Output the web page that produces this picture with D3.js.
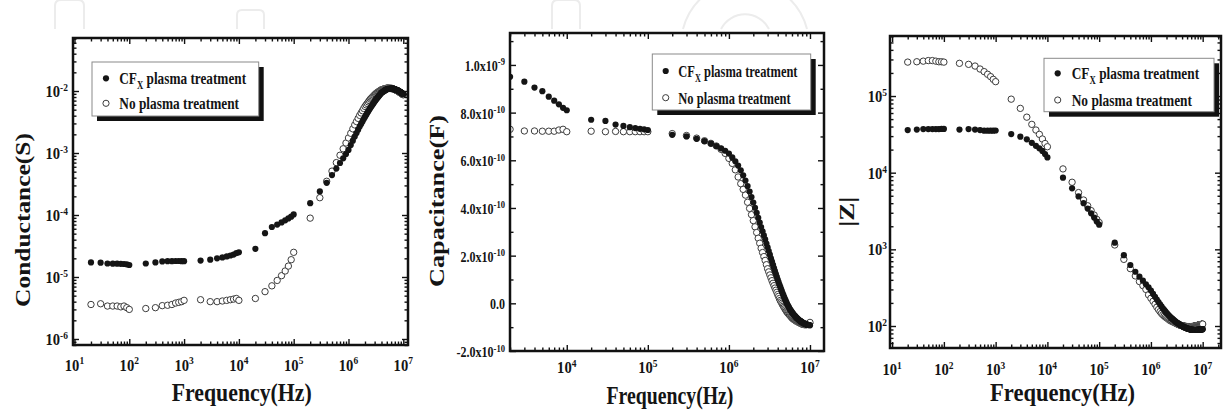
<!DOCTYPE html>
<html>
<head>
<meta charset="utf-8">
<script src="https://cdn.jsdelivr.net/npm/d3@7/dist/d3.min.js"></script>
<style>
  body { margin: 0; background: #fff; }
  svg { display: block; }
  text { font-family: "Liberation Serif", "Times New Roman", serif; font-weight: bold; fill: #141414; }
</style>
</head>
<body>
<svg id="chart" width="1224" height="411"></svg>
<script>
// ---------------- data ----------------
// sweep frequencies (Hz)
var freq = [20,30,40,50,60,70,80,90,100,
  200,300,400,500,600,700,800,900,1000,
  2000,3000,4000,5000,6000,7000,8000,9000,10000,
  2e4,3e4,4e4,5e4,6e4,7e4,8e4,9e4,1e5,
  2e5,3e5,4e5,5e5,6e5,7e5,8e5,9e5,1e6,
  1.1e6,1.2e6,1.3e6,1.4e6,1.5e6,1.6e6,1.7e6,1.8e6,1.9e6,2.0e6,
  2.1e6,2.2e6,2.3e6,2.4e6,2.5e6,2.6e6,2.7e6,2.8e6,2.9e6,3.0e6,
  3.1e6,3.2e6,3.3e6,3.4e6,3.5e6,3.6e6,3.7e6,3.8e6,3.9e6,4.0e6,
  4.1e6,4.2e6,4.3e6,4.4e6,4.5e6,4.6e6,4.7e6,4.8e6,4.9e6,5.0e6,
  5.1e6,5.2e6,5.3e6,5.4e6,5.5e6,5.6e6,5.7e6,5.8e6,5.9e6,6.0e6,
  6.1e6,6.2e6,6.3e6,6.4e6,6.5e6,6.6e6,6.7e6,6.8e6,6.9e6,7.0e6,
  7.1e6,7.2e6,7.3e6,7.4e6,7.5e6,7.6e6,7.7e6,7.8e6,7.9e6,8.0e6,
  8.1e6,8.2e6,8.3e6,8.4e6,8.5e6,8.6e6,8.7e6,8.8e6,8.9e6,9.0e6,
  9.1e6,9.2e6,9.3e6,9.4e6,9.5e6,9.6e6,9.7e6,9.8e6,9.9e6,10e6];

// conductance (S)
var condCF = [1.72e-5,1.70e-5,1.65e-5,1.64e-5,1.64e-5,1.63e-5,1.62e-5,1.60e-5,1.56e-5,
  1.65e-5,1.72e-5,1.78e-5,1.80e-5,1.80e-5,1.81e-5,1.81e-5,1.80e-5,1.80e-5,
  1.84e-5,1.90e-5,2.00e-5,2.07e-5,2.15e-5,2.22e-5,2.30e-5,2.42e-5,2.50e-5,
  2.85e-5,5.1e-5,6.4e-5,7.0e-5,7.6e-5,8.2e-5,8.8e-5,9.4e-5,1.02e-4,
  1.55e-4,2.4e-4,3.3e-4,4.4e-4,5.6e-4,6.9e-4,8.2e-4,9.6e-4,1.12e-3,
  1.34e-3,1.58e-3,1.84e-3,2.10e-3,2.38e-3,2.67e-3,2.94e-3,3.22e-3,3.52e-3,3.82e-3,
  4.10e-3,4.40e-3,4.71e-3,5.01e-3,5.33e-3,5.62e-3,5.89e-3,6.18e-3,6.47e-3,6.76e-3,
  7.05e-3,7.35e-3,7.60e-3,7.85e-3,8.10e-3,8.35e-3,8.61e-3,8.87e-3,9.12e-3,9.35e-3,
  9.51e-3,9.64e-3,9.78e-3,9.91e-3,1.005e-2,1.02e-2,1.03e-2,1.045e-2,1.057e-2,1.07e-2,
  1.074e-2,1.076e-2,1.078e-2,1.08e-2,1.082e-2,1.084e-2,1.086e-2,1.088e-2,1.09e-2,1.092e-2,
  1.094e-2,1.096e-2,1.096e-2,1.09e-2,1.087e-2,1.08e-2,1.077e-2,1.072e-2,1.067e-2,1.062e-2,
  1.058e-2,1.054e-2,1.05e-2,1.045e-2,1.04e-2,1.037e-2,1.033e-2,1.028e-2,1.025e-2,1.019e-2,
  1.012e-2,1.005e-2,9.98e-3,9.91e-3,9.82e-3,9.75e-3,9.68e-3,9.62e-3,9.57e-3,9.50e-3,
  9.44e-3,9.38e-3,9.31e-3,9.25e-3,9.19e-3,9.14e-3,9.08e-3,9.02e-3,8.97e-3,8.91e-3];
var condNo = [3.6e-6,3.7e-6,3.4e-6,3.4e-6,3.4e-6,3.3e-6,3.4e-6,3.2e-6,3.0e-6,
  3.1e-6,3.2e-6,3.45e-6,3.5e-6,3.6e-6,3.8e-6,3.9e-6,4.0e-6,4.2e-6,
  4.3e-6,4.0e-6,4.0e-6,4.1e-6,4.2e-6,4.3e-6,4.4e-6,4.5e-6,4.2e-6,
  4.5e-6,5.8e-6,7.2e-6,8.8e-6,1.05e-5,1.25e-5,1.5e-5,1.9e-5,2.5e-5,
  8.9e-5,1.9e-4,3.5e-4,5.1e-4,7.0e-4,9.2e-4,1.17e-3,1.45e-3,1.75e-3,
  2.08e-3,2.45e-3,2.84e-3,3.22e-3,3.62e-3,4.04e-3,4.42e-3,4.81e-3,5.23e-3,5.64e-3,
  5.97e-3,6.31e-3,6.67e-3,7.01e-3,7.38e-3,7.64e-3,7.90e-3,8.17e-3,8.43e-3,8.69e-3,
  8.95e-3,9.18e-3,9.35e-3,9.53e-3,9.68e-3,9.86e-3,1.002e-2,1.019e-2,1.035e-2,1.047e-2,
  1.054e-2,1.059e-2,1.066e-2,1.074e-2,1.079e-2,1.086e-2,1.091e-2,1.096e-2,1.104e-2,1.109e-2,
  1.109e-2,1.108e-2,1.107e-2,1.106e-2,1.105e-2,1.104e-2,1.103e-2,1.102e-2,1.101e-2,1.10e-2,
  1.099e-2,1.098e-2,1.097e-2,1.091e-2,1.083e-2,1.076e-2,1.071e-2,1.064e-2,1.057e-2,1.052e-2,
  1.047e-2,1.040e-2,1.035e-2,1.028e-2,1.023e-2,1.018e-2,1.012e-2,1.007e-2,1.002e-2,9.95e-3,
  9.88e-3,9.81e-3,9.75e-3,9.66e-3,9.62e-3,9.53e-3,9.46e-3,9.40e-3,9.35e-3,9.29e-3,
  9.23e-3,9.16e-3,9.10e-3,9.04e-3,8.97e-3,8.93e-3,8.87e-3,8.81e-3,8.75e-3,8.71e-3];

// capacitance, in units of 1e-10 F (panel starts at 2 kHz)
var capFreq = freq.slice(18);
var capCF = [9.5,9.3,9.05,8.9,8.67,8.5,8.35,8.2,8.1,
  7.7,7.65,7.5,7.44,7.39,7.35,7.32,7.3,7.27,
  7.07,7.0,6.9,6.8,6.7,6.6,6.5,6.4,6.28,
  6.12,5.96,5.78,5.58,5.37,5.15,4.92,4.69,4.46,4.23,
  4.01,3.80,3.59,3.39,3.20,3.02,2.85,2.68,2.51,2.35,
  2.19,2.04,1.89,1.75,1.61,1.48,1.35,1.23,1.11,1.00,
  0.89,0.79,0.69,0.60,0.51,0.42,0.34,0.26,0.19,0.12,
  0.05,-0.01,-0.07,-0.12,-0.17,-0.22,-0.26,-0.30,-0.34,-0.38,
  -0.41,-0.44,-0.47,-0.50,-0.53,-0.55,-0.58,-0.60,-0.62,-0.64,
  -0.66,-0.68,-0.70,-0.71,-0.73,-0.74,-0.76,-0.77,-0.78,-0.80,
  -0.81,-0.82,-0.83,-0.84,-0.85,-0.86,-0.86,-0.87,-0.88,-0.88,
  -0.89,-0.89,-0.90,-0.90,-0.90,-0.91,-0.91,-0.91,-0.92,-0.92];
var capNo = [7.3,7.23,7.23,7.22,7.22,7.22,7.27,7.3,7.2,
  7.22,7.2,7.21,7.2,7.2,7.2,7.2,7.2,7.2,
  7.12,7.04,6.93,6.82,6.71,6.6,6.46,6.29,6.08,
  5.87,5.60,5.30,5.02,4.78,4.54,4.24,3.98,3.72,3.47,
  3.21,2.97,2.73,2.52,2.31,2.13,1.96,1.80,1.62,1.45,
  1.32,1.19,1.07,0.95,0.84,0.74,0.64,0.55,0.46,0.37,
  0.29,0.20,0.12,0.06,0.00,-0.06,-0.12,-0.17,-0.22,-0.27,
  -0.32,-0.36,-0.40,-0.43,-0.46,-0.49,-0.52,-0.55,-0.58,-0.61,
  -0.63,-0.65,-0.67,-0.69,-0.70,-0.72,-0.73,-0.75,-0.76,-0.77,
  -0.78,-0.79,-0.80,-0.81,-0.82,-0.83,-0.84,-0.85,-0.86,-0.87,
  -0.87,-0.88,-0.88,-0.89,-0.89,-0.89,-0.89,-0.89,-0.89,-0.89,
  -0.89,-0.89,-0.88,-0.88,-0.88,-0.87,-0.87,-0.86,-0.85,-0.80];

// |Z| (ohm)
var impCF = [3.6e4,3.65e4,3.7e4,3.7e4,3.7e4,3.7e4,3.7e4,3.72e4,3.72e4,
  3.65e4,3.7e4,3.65e4,3.6e4,3.53e4,3.53e4,3.53e4,3.53e4,3.55e4,
  3.19e4,2.95e4,2.72e4,2.45e4,2.24e4,2.08e4,1.92e4,1.75e4,1.58e4,
  8.6e3,6.25e3,4.9e3,4.0e3,3.4e3,2.95e3,2.6e3,2.3e3,2.1e3,
  1220,840,625,510,440,390,350,320,290,
  262,240,221,205,192,180,170,162,155,148,
  143,138,134,130,126.5,123.5,121,118.5,116,114,
  112,110.3,108.7,107.2,105.8,104.5,103.2,102,100.9,99.8,
  98.9,98,97.2,96.5,95.8,95.2,94.6,94,93.5,93,
  92.5,92.2,91.8,91.5,91.2,90.8,90.5,90.2,89.9,89.5,
  89.4,89.3,89.2,89.1,89.0,88.9,88.8,88.8,88.7,88.7,
  88.7,88.7,88.7,88.7,88.8,88.8,88.8,88.9,88.9,89.0,
  89.1,89.2,89.3,89.4,89.5,89.6,89.7,89.8,89.9,90.0,
  90.1,90.2,90.3,90.4,90.5,90.6,90.7,90.8,90.9,91];
var impNo = [2.77e5,2.8e5,2.85e5,2.9e5,2.9e5,2.85e5,2.8e5,2.8e5,2.77e5,
  2.67e5,2.59e5,2.46e5,2.25e5,2.08e5,1.92e5,1.79e5,1.65e5,1.54e5,
  9.1e4,6.9e4,5.3e4,4.27e4,3.6e4,3.16e4,2.75e4,2.4e4,2.18e4,
  1.12e4,7.5e3,5.5e3,4.4e3,3.7e3,3.2e3,2.8e3,2.46e3,2.24e3,
  1140,740,560,450,380,336,300,255,230,
  210,192,176,164,154,146,140,135,131,128,
  125,122,119,117,115.6,114.2,112.7,111.4,110.2,108.9,
  107.7,106.7,105.4,104.5,103.5,103,102.6,101.9,101.4,100.9,
  100.5,100.2,99.8,99.5,99.2,98.9,98.7,98.5,98.3,98.1,
  98.0,97.9,97.9,97.8,97.8,97.8,97.8,97.9,97.9,98.0,
  98.1,98.2,98.3,98.5,98.6,98.8,99.0,99.2,99.4,99.6,
  99.8,100,100.2,100.5,100.8,101,101.2,101.4,101.6,101.8,
  102,102.2,102.4,102.6,102.9,103.2,103.4,103.6,103.8,104,
  104.2,104.4,104.6,104.8,105,105.2,105.4,105.6,105.8,106];

// tick labels
var xExpFull = [1,2,3,4,5,6,7];
var xExpCap = [4,5,6,7];
var yExpCond = [-6,-5,-4,-3,-2];
var yExpImp = [2,3,4,5];
var capTicks = [-2,0,2,4,6,8,10];
var capMinor = [-1,1,3,5,7,9,11];
var capTickLabels = [['-2.0x10','-10'],['0.0',''],['2.0x10','-10'],['4.0x10','-10'],
  ['6.0x10','-10'],['8.0x10','-10'],['1.0x10','-9']];
var legendCF = ['CF', 'X', ' plasma treatment'];
var legendNo = 'No plasma treatment';

// ---------------- drawing ----------------
var svg = d3.select('#chart');
svg.append('rect').attr('width', 1224).attr('height', 411).attr('fill', '#fff');

var SQ = 0.86; // the figure's lettering is horizontally squeezed

// faint watermark outlines along the top
var wm = svg.append('g').attr('fill', 'none').attr('stroke', '#ececec').attr('stroke-width', 2);
wm.append('path').attr('d', 'M55,29V6Q55,0 61,0H78Q84,0 84,6V29');
wm.append('path').attr('d', 'M237,29V15Q237,10 242,10H259Q264,10 264,15V29');
wm.append('path').attr('d', 'M552,29V6Q552,0 558,0H574Q580,0 580,6V29');
wm.append('path').attr('d', 'M683,29A64,64 0 0 1 807,29');
wm.append('path').attr('d', 'M721,29A27,27 0 0 1 769,29');

function supText(t, base, sup, supSize) {
  t.append('tspan').text(base);
  if (sup) t.append('tspan').attr('dy', '-0.55em').attr('font-size', supSize).text(sup);
}

function isMajor(v) { var l = Math.log10(v); return Math.abs(l - Math.round(l)) < 1e-6; }

function drawPanel(p) {
  var g = svg.append('g');
  var x = d3.scaleLog().domain(p.xDom).range([p.l, p.r]);
  var y = (p.yLog ? d3.scaleLog() : d3.scaleLinear()).domain(p.yDom).range([p.b, p.t]);

  // points
  svg.append('clipPath').attr('id', 'clip' + p.id).append('rect')
    .attr('x', p.l).attr('y', p.t).attr('width', p.r - p.l).attr('height', p.b - p.t);
  var marks = g.append('g').attr('clip-path', 'url(#clip' + p.id + ')');
  marks.selectAll('circle.no').data(d3.zip(p.f, p.no)).join('circle').attr('class', 'no')
    .attr('cx', function(d) { return x(d[0]); })
    .attr('cy', function(d) { return y(d[1]); })
    .attr('r', 3.2).attr('fill', '#fff').attr('stroke', '#3c3c3c').attr('stroke-width', 1);
  marks.selectAll('circle.cf').data(d3.zip(p.f, p.cf)).join('circle').attr('class', 'cf')
    .attr('cx', function(d) { return x(d[0]); })
    .attr('cy', function(d) { return y(d[1]); })
    .attr('r', 3.1).attr('fill', '#151515');

  // ticks on all four sides, pointing inward
  var xMaj = x.ticks().filter(isMajor), xMin = x.ticks().filter(function(v) { return !isMajor(v); });
  var yMaj, yMin;
  if (p.yLog) {
    yMaj = y.ticks().filter(isMajor); yMin = y.ticks().filter(function(v) { return !isMajor(v); });
  } else { yMaj = p.yTicks; yMin = p.yMinor; }

  function tickRow(axis, vals, size, tr) {
    var a = g.append('g').attr('transform', tr)
      .call(axis.tickValues(vals).tickSize(-size).tickFormat(''));
    a.select('.domain').remove();
    a.selectAll('line').attr('stroke', '#111').attr('stroke-width', 1.4);
  }
  [[xMaj, 6], [xMin, 3.5]].forEach(function(s) {
    tickRow(d3.axisBottom(x), s[0], s[1], 'translate(0,' + p.b + ')');
    tickRow(d3.axisTop(x), s[0], s[1], 'translate(0,' + p.t + ')');
  });
  [[yMaj, 6], [yMin, 3.5]].forEach(function(s) {
    tickRow(d3.axisLeft(y), s[0], s[1], 'translate(' + p.l + ',0)');
    tickRow(d3.axisRight(y), s[0], s[1], 'translate(' + p.r + ',0)');
  });

  g.append('rect').attr('x', p.l).attr('y', p.t).attr('width', p.r - p.l).attr('height', p.b - p.t)
    .attr('fill', 'none').attr('stroke', '#111').attr('stroke-width', 2.5);

  // x tick labels
  g.selectAll('g.xl').data(p.xExp).join('g').attr('class', 'xl')
    .attr('transform', function(e) { return 'translate(' + x(Math.pow(10, e)) + ',' + p.xLabY + ') scale(' + SQ + ',1)'; })
    .append('text').attr('text-anchor', 'middle').attr('font-size', 17)
    .each(function(e) { supText(d3.select(this), '10', String(e), 11); });

  // y tick labels
  g.selectAll('g.yl').data(p.yLabels).join('g').attr('class', 'yl')
    .attr('transform', function(d) { return 'translate(' + (p.l - p.yPad) + ',' + (y(d.v) + 6) + ') scale(' + SQ + ',1)'; })
    .append('text').attr('text-anchor', 'end').attr('font-size', p.yFont)
    .each(function(d) { supText(d3.select(this), d.base, d.sup, p.ySup); });

  // axis titles
  var xt = g.append('g');
  var xtText = xt.append('text').attr('text-anchor', 'middle').attr('font-size', 25).text('Frequency(Hz)');
  xt.attr('transform', 'translate(' + p.xt[0] + ',' + p.xt[1] + ') scale(' + (p.xt[2] / xtText.node().getBBox().width) + ',1)');

  var yt = g.append('g');
  var ytText = yt.append('text').attr('text-anchor', 'middle').attr('font-size', 25).text(p.yTitle);
  var s = p.yt[2] ? p.yt[2] / ytText.node().getBBox().width : 1;
  yt.attr('transform', 'translate(' + p.yt[0] + ',' + p.yt[1] + ') rotate(-90) scale(' + s + ',' + SQ + ')');
  ytText.attr('y', 8);

  // legend with drop shadow
  var L = p.leg;
  g.append('rect').attr('x', L.x + 5).attr('y', L.y + 5).attr('width', L.w).attr('height', L.h).attr('fill', '#111');
  g.append('rect').attr('x', L.x).attr('y', L.y).attr('width', L.w).attr('height', L.h)
    .attr('fill', '#fff').attr('stroke', '#8a8a8a').attr('stroke-width', 1);
  g.append('circle').attr('cx', L.mx).attr('cy', L.r1).attr('r', 3.1).attr('fill', '#151515');
  g.append('circle').attr('cx', L.mx).attr('cy', L.r2).attr('r', 3.1).attr('fill', '#fff')
    .attr('stroke', '#3c3c3c').attr('stroke-width', 1);

  var l1 = g.append('g');
  var t1 = l1.append('text').attr('font-size', 17.5);
  t1.append('tspan').text(legendCF[0]);
  t1.append('tspan').attr('dy', 4.5).attr('font-size', 11.5).text(legendCF[1]);
  t1.append('tspan').attr('dy', -4.5).text(legendCF[2]);
  l1.attr('transform', 'translate(' + L.tx + ',' + (L.r1 + 6) + ') scale(' + (L.w1 / t1.node().getBBox().width) + ',1)');

  var l2 = g.append('g');
  var t2 = l2.append('text').attr('font-size', 17.5).text(legendNo);
  l2.attr('transform', 'translate(' + L.tx + ',' + (L.r2 + 6) + ') scale(' + (L.w2 / t2.node().getBBox().width) + ',1)');
}

function expLabels(exps) { return exps.map(function(e) { return { v: Math.pow(10, e), base: '10', sup: String(e) }; }); }

drawPanel({
  id: 1, l: 73, r: 408, t: 38, b: 345,
  xDom: [Math.pow(10, 0.973), Math.pow(10, 7.086)],
  yLog: true, yDom: [Math.pow(10, -6.097), Math.pow(10, -1.145)],
  f: freq, cf: condCF, no: condNo,
  xExp: xExpFull, xLabY: 370.5,
  yLabels: expLabels(yExpCond), yPad: 5, yFont: 17, ySup: 11,
  xt: [241.7, 401, 140], yTitle: 'Conductance(S)', yt: [23, 220, 174],
  leg: { x: 92, y: 62, w: 166.7, h: 54, mx: 106, r1: 78.3, r2: 103.3, tx: 119.3, w1: 127, w2: 120 }
});

drawPanel({
  id: 2, l: 510, r: 824, t: 33, b: 351,
  xDom: [Math.pow(10, 3.30), Math.pow(10, 7.173)],
  yLog: false, yDom: [-2.0, 11.34], yTicks: capTicks, yMinor: capMinor,
  f: capFreq, cf: capCF, no: capNo,
  xExp: xExpCap, xLabY: 373,
  yLabels: capTicks.map(function(v, i) { return { v: v, base: capTickLabels[i][0], sup: capTickLabels[i][1] }; }),
  yPad: 5, yFont: 14, ySup: 10,
  xt: [670, 403.5, 127], yTitle: 'Capacitance(F)', yt: [437, 201, 172],
  leg: { x: 652.3, y: 54, w: 158.4, h: 56, mx: 665.7, r1: 71, r2: 97.7, tx: 678.3, w1: 119.4, w2: 112.5 }
});

drawPanel({
  id: 3, l: 890, r: 1221, t: 36, b: 348,
  xDom: [Math.pow(10, 0.959), Math.pow(10, 7.354)],
  yLog: true, yDom: [Math.pow(10, 1.713), Math.pow(10, 5.783)],
  f: freq, cf: impCF, no: impNo,
  xExp: xExpFull, xLabY: 375,
  yLabels: expLabels(yExpImp), yPad: 3, yFont: 17, ySup: 11,
  xt: [1062.5, 401, 145], yTitle: '|Z|', yt: [847.5, 211.7, 30],
  leg: { x: 1044, y: 58.3, w: 170, h: 53.4, mx: 1057.7, r1: 73.3, r2: 100, tx: 1071.7, w1: 127.6, w2: 120.5 }
});
</script>
</body>
</html>
